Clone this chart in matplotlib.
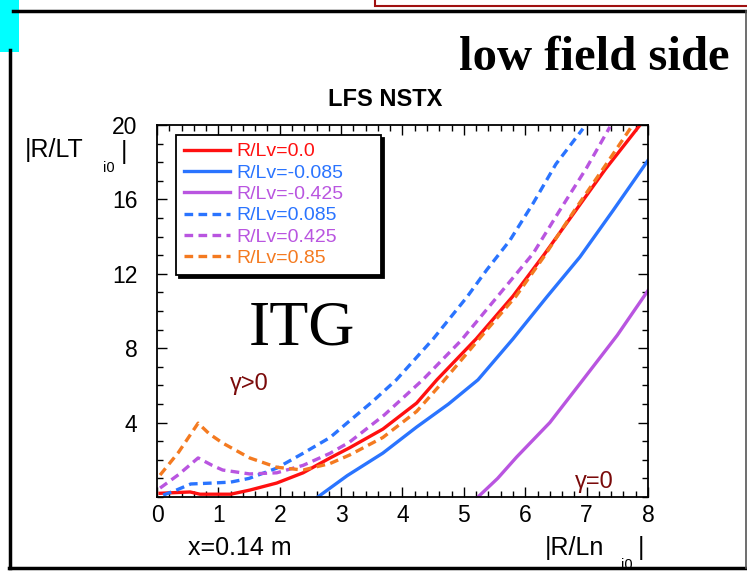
import matplotlib
matplotlib.use("Agg")
import matplotlib.pyplot as plt
from matplotlib.lines import Line2D
from matplotlib.patches import Rectangle
from matplotlib.ticker import MultipleLocator

# values
x_red = [0.05, 0.54, 0.7, 1.2, 1.51, 1.95, 2.38, 2.82, 3.14, 3.68, 4.23, 4.56, 5.2, 5.8, 6.3, 6.8, 7.3, 7.87]
y_red = [0.2, 0.27, 0.15, 0.15, 0.37, 0.75, 1.3, 2.1, 2.65, 3.65, 5.05, 6.3, 8.5, 10.8, 13.0, 15.3, 17.6, 20.0]

x_blue = [2.62, 3.1, 3.68, 4.23, 4.75, 5.23, 5.8, 6.35, 6.89, 7.43, 8.0]
y_blue = [0.0, 1.15, 2.36, 3.76, 5.0, 6.3, 8.5, 10.75, 12.9, 15.4, 18.1]

x_purple = [5.23, 5.55, 5.86, 6.4, 6.94, 7.5, 8.0]
y_purple = [0.0, 1.0, 2.15, 4.0, 6.3, 8.7, 11.1]

x_blue_d = [0.1, 0.3, 0.55, 0.9, 1.2, 1.5, 1.95, 2.38, 2.82, 3.14, 3.5, 3.9, 4.5, 5.05, 5.37, 5.75, 6.13, 6.5, 6.94]
y_blue_d = [0.1, 0.35, 0.7, 0.75, 0.8, 1.0, 1.55, 2.35, 3.2, 4.1, 5.1, 6.3, 8.5, 10.75, 12.2, 13.8, 15.8, 17.9, 19.8]

x_purple_d = [0.05, 0.35, 0.67, 0.9, 1.07, 1.51, 1.95, 2.38, 2.82, 3.14, 3.7, 4.33, 4.95, 5.54, 6.13, 6.56, 7.0, 7.38]
y_purple_d = [0.48, 1.2, 2.1, 1.7, 1.45, 1.24, 1.3, 1.7, 2.35, 2.96, 4.4, 6.3, 8.4, 10.75, 13.1, 15.4, 17.7, 19.9]

x_orange_d = [0.05, 0.35, 0.67, 0.85, 1.07, 1.51, 1.95, 2.38, 2.82, 3.14, 3.68, 4.23, 4.66, 5.3, 5.85, 6.3, 6.8, 7.3, 7.75]
y_orange_d = [1.18, 2.4, 3.97, 3.4, 2.9, 2.1, 1.6, 1.45, 1.8, 2.26, 3.2, 4.6, 6.2, 8.7, 10.8, 12.9, 15.4, 17.8, 20.0]

labels = ["R/Lv=0.0", "R/Lv=-0.085", "R/Lv=-0.425", "R/Lv=0.085", "R/Lv=0.425", "R/Lv=0.85"]
xtick_vals = [0, 1, 2, 3, 4, 5, 6, 7, 8]
ytick_vals = [4, 8, 12, 16, 20]

RED = "#ff1010"
BLUE = "#2a74ff"
PURPLE = "#b955e0"
ORANGE = "#f47a20"
DARKRED = "#7a0a0a"

plt.rcParams["font.family"] = ["Liberation Sans", "DejaVu Sans"]

W, H = 747, 575
fig = plt.figure(figsize=(W / 100, H / 100), dpi=100)

def fx(px):
    return px / W

def fy(py):
    return 1 - py / H

# page decorations (frame, cyan tab, red box)
fig.add_artist(Rectangle((fx(375), fy(6)), fx(380), fy(-10) - fy(6), transform=fig.transFigure,
                         facecolor="white", edgecolor="#a01010", lw=1.5))
fig.add_artist(Line2D([fx(13), fx(746)], [fy(11), fy(11)], color="black", lw=2.5))
fig.add_artist(Line2D([fx(9.5), fx(9.5)], [fy(50), fy(568)], color="black", lw=2.5))
fig.add_artist(Line2D([fx(9), fx(745.5)], [fy(568), fy(568)], color="black", lw=2.5))
fig.add_artist(Line2D([fx(745.5), fx(745.5)], [fy(11), fy(568)], color="#555555", lw=1.2))
fig.add_artist(Rectangle((0, fy(52)), fx(19), fy(0) - fy(52), transform=fig.transFigure,
                         facecolor="#00ffff", edgecolor="none"))

ax = fig.add_axes([fx(157), fy(497), fx(648) - fx(157), fy(125) - fy(497)])

lw = 2.4
dash = (0, (2.6, 1.6))
ax.plot(x_red, y_red, color=RED, lw=lw, label=labels[0])
ax.plot(x_blue, y_blue, color=BLUE, lw=lw, label=labels[1])
ax.plot(x_purple, y_purple, color=PURPLE, lw=lw, label=labels[2])
ax.plot(x_blue_d, y_blue_d, color=BLUE, lw=lw, ls=dash, label=labels[3])
ax.plot(x_purple_d, y_purple_d, color=PURPLE, lw=lw, ls=dash, label=labels[4])
ax.plot(x_orange_d, y_orange_d, color=ORANGE, lw=lw, ls=dash, label=labels[5])

ax.set_xlim(0, 8)
ax.set_ylim(0, 20)
ax.set_xticks(xtick_vals)
ax.set_yticks(ytick_vals)
ax.xaxis.set_minor_locator(MultipleLocator(0.2))
ax.yaxis.set_minor_locator(MultipleLocator(1))
ax.tick_params(which="both", direction="in", top=True, right=True, width=1)
ax.tick_params(which="major", length=7)
ax.tick_params(which="minor", length=4)
ax.tick_params(axis="x", labelsize=16.5, pad=5)
ax.tick_params(axis="y", labelsize=16.5, pad=14)
for s in ax.spines.values():
    s.set_linewidth(1.3)

leg = ax.legend(loc="upper left", bbox_to_anchor=(0.0387, 0.602, 0.4175, 0.371), mode="expand",
                borderaxespad=0, fontsize=14, handlelength=2.4, handletextpad=0.3,
                labelspacing=0.19, borderpad=0.4, fancybox=False,
                shadow={"color": "black", "alpha": 1}, framealpha=1)
leg.get_frame().set_edgecolor("black")
leg.get_frame().set_linewidth(1.3)
for txt, ln in zip(leg.get_texts(), leg.get_lines()):
    txt.set_color(ln.get_color())

ax.text(2.36, 9.0, "ITG", fontsize=46, family="Liberation Serif", ha="center", va="center")
ax.text(1.5, 6.1, "γ>0", fontsize=17, color=DARKRED, ha="center", va="center")
ax.text(7.12, 0.8, "γ=0", fontsize=17, color=DARKRED, ha="center", va="center")

fig.text(fx(594), fy(70), "low field side", fontsize=35, family="Liberation Serif",
         weight="bold", ha="center", va="baseline")
fig.text(fx(385), fy(99), "LFS NSTX", fontsize=17, weight="bold", ha="center", va="center")

fig.text(fx(25), fy(150), "|R/LT", fontsize=18, ha="left", va="center")
fig.text(fx(109), fy(168), "i0", fontsize=10.5, ha="center", va="center")
fig.text(fx(124), fy(152), "|", fontsize=18, ha="center", va="center")

fig.text(fx(240), fy(548), "x=0.14 m", fontsize=18, ha="center", va="center")
fig.text(fx(545), fy(548), "|R/Ln", fontsize=18, ha="left", va="center")
fig.text(fx(627), fy(565), "i0", fontsize=10.5, ha="center", va="center")
fig.text(fx(641), fy(548), "|", fontsize=18, ha="center", va="center")

fig.savefig("out.png", dpi=100)
